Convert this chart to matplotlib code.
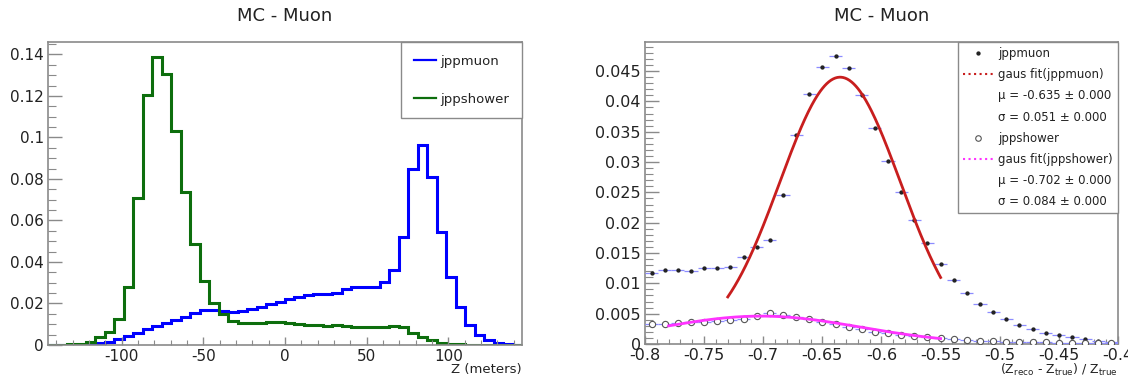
import numpy as np
import matplotlib
matplotlib.use('Agg')
import matplotlib.pyplot as plt
from matplotlib.lines import Line2D
from matplotlib.ticker import MultipleLocator, FormatStrFormatter

# left panel: Z distribution, 50 bins between -145 and 145 m
z_range = (-145, 145)
z_nbins = 50
jppmuon_z = [0.0001, 0.0001, 0.0001, 0.0002, 0.0005, 0.0008, 0.0016, 0.0027, 0.0043, 0.0060,
             0.0075, 0.0092, 0.0104, 0.0120, 0.0136, 0.0156, 0.0168, 0.0170, 0.0165, 0.0160,
             0.0162, 0.0175, 0.0185, 0.0196, 0.0209, 0.0220, 0.0233, 0.0240, 0.0246, 0.0246,
             0.0249, 0.0270, 0.0278, 0.0281, 0.0281, 0.0302, 0.0361, 0.0519, 0.0850, 0.0963,
             0.0810, 0.0546, 0.0330, 0.0185, 0.0096, 0.0050, 0.0024, 0.0010, 0.0003, 0.0001]
jppshower_z = [0.0002, 0.0002, 0.0003, 0.0006, 0.0016, 0.0037, 0.0064, 0.0127, 0.0278, 0.0706,
               0.1205, 0.1390, 0.1305, 0.1030, 0.0735, 0.0488, 0.0310, 0.0200, 0.0150, 0.0115,
               0.0108, 0.0105, 0.0108, 0.0112, 0.0110, 0.0108, 0.0103, 0.0098, 0.0096, 0.0093,
               0.0095, 0.0092, 0.0088, 0.0086, 0.0085, 0.0087, 0.0093, 0.0088, 0.0060, 0.0040,
               0.0023, 0.0012, 0.0006, 0.0003, 0.0001, 0.0, 0.0, 0.0, 0.0, 0.0]

# right panel: relative resolution, 36 bins between -0.8 and -0.4
res_range = (-0.8, -0.4)
res_nbins = 36
jppmuon_res = [0.01166, 0.01221, 0.01221, 0.01205, 0.01249, 0.01260, 0.01271, 0.01430, 0.01606, 0.01716,
               0.02459, 0.03449, 0.04126, 0.04560, 0.04742, 0.04544, 0.04098, 0.03559, 0.03020, 0.02508,
               0.02046, 0.01661, 0.01320, 0.01056, 0.00836, 0.00660, 0.00523, 0.00407, 0.00314, 0.00242,
               0.00187, 0.00143, 0.00110, 0.00077, 0.00050, 0.00033]
jppshower_res = [0.00325, 0.00330, 0.00340, 0.00358, 0.00369, 0.00380, 0.00396, 0.00407, 0.00468, 0.00506,
                 0.00479, 0.00451, 0.00407, 0.00358, 0.00330, 0.00286, 0.00248, 0.00204, 0.00176, 0.00149,
                 0.00132, 0.00110, 0.00094, 0.00077, 0.00060, 0.00050, 0.00044, 0.00039, 0.00033, 0.00028,
                 0.00028, 0.00022, 0.00022, 0.00017, 0.00017, 0.00017]

# gaus fits: amplitude, mean, sigma, fit range
muon_fit = dict(amp=0.0440, mu=-0.635, sigma=0.051, lo=-0.73, hi=-0.55)
shower_fit = dict(amp=0.0046, mu=-0.702, sigma=0.084, lo=-0.78, hi=-0.55)

plt.rcParams['font.family'] = ['DejaVu Sans']
plt.rcParams['mathtext.default'] = 'regular'
plt.rcParams['axes.unicode_minus'] = False

W, H = 1128, 378
fig = plt.figure(figsize=(W / 100, H / 100), dpi=100)
ax1 = fig.add_axes([48 / W, 1 - 345 / H, 474 / W, 303 / H])
ax2 = fig.add_axes([645 / W, 1 - 344 / H, 473 / W, 302 / H])

frame_col = '#8a8a8a'
text_col = '#222222'


def root_style(ax, xmaj, xmin, ymaj, ymin, ylen):
    for s in ax.spines.values():
        s.set_color(frame_col)
        s.set_linewidth(1.2)
    ax.xaxis.set_major_locator(MultipleLocator(xmaj))
    ax.xaxis.set_minor_locator(MultipleLocator(xmin))
    ax.yaxis.set_major_locator(MultipleLocator(ymaj))
    ax.yaxis.set_minor_locator(MultipleLocator(ymin))
    ax.xaxis.set_major_formatter(plt.FuncFormatter(lambda v, p: '%g' % round(v, 4)))
    ax.yaxis.set_major_formatter(plt.FuncFormatter(lambda v, p: '%g' % round(v, 4)))
    ax.tick_params(axis='both', which='both', direction='in', color=frame_col,
                   labelcolor=text_col, top=False, right=False)
    ax.tick_params(axis='y', which='major', length=ylen, width=1, pad=3)
    ax.tick_params(axis='y', which='minor', length=ylen * 0.55, width=0.8)
    ax.tick_params(axis='x', which='major', length=6, width=1, pad=3)
    ax.tick_params(axis='x', which='minor', length=3.5, width=0.8)


# left panel
z_edges = np.linspace(z_range[0], z_range[1], z_nbins + 1)
ax1.stairs(jppmuon_z, z_edges, color='#0000ff', lw=2.2, label='jppmuon')
ax1.stairs(jppshower_z, z_edges, color='#0d6e0d', lw=2.2, label='jppshower')
ax1.set_xlim(z_range)
ax1.set_ylim(0, 0.146)
root_style(ax1, 50, 10, 0.02, 0.005, 10)
ax1.tick_params(labelsize=11)

leg1 = ax1.legend(loc='upper right', bbox_to_anchor=(1, 1), borderaxespad=0, fontsize=9.5,
                  frameon=True, fancybox=False, framealpha=1, edgecolor=frame_col,
                  handlelength=1.7, handletextpad=0.35, labelspacing=1.9, borderpad=0.95)
leg1.get_frame().set_linewidth(1)
for t in leg1.get_texts():
    t.set_color(text_col)
for h in leg1.get_lines():
    h.set_linewidth(1.6)

ax1.text(0.5, 1 + (42 - 16) / 303, 'MC - Muon', transform=ax1.transAxes,
         ha='center', va='center', fontsize=13, color=text_col)
ax1.text(1, -(369 - 345) / 303, 'Z (meters)', transform=ax1.transAxes,
         ha='right', va='center', fontsize=9.5, color=text_col)

# right panel
res_edges = np.linspace(res_range[0], res_range[1], res_nbins + 1)
centers = 0.5 * (res_edges[:-1] + res_edges[1:])
half = 0.5 * (res_edges[1] - res_edges[0])

ax2.errorbar(centers, jppmuon_res, xerr=half, fmt='o', ms=2.1, color='#222222',
             ecolor='#8c8cff', elinewidth=0.9, capsize=0, zorder=3)
ax2.errorbar(centers, jppshower_res, xerr=half, fmt='o', ms=4.5, mfc='white', mec='#555555',
             mew=0.8, ecolor='#8c8cff', elinewidth=0.9, capsize=0, zorder=3)

for fit, col in [(muon_fit, '#c81e1e'), (shower_fit, '#ff33ff')]:
    xs = np.linspace(fit['lo'], fit['hi'], 300)
    ys = fit['amp'] * np.exp(-0.5 * ((xs - fit['mu']) / fit['sigma']) ** 2)
    ax2.plot(xs, ys, color=col, lw=2.0, zorder=4)

ax2.set_xlim(res_range)
ax2.set_ylim(0, 0.0498)
root_style(ax2, 0.05, 0.01, 0.005, 0.001, 10)
ax2.tick_params(labelsize=11.5)

handles = [
    Line2D([], [], ls='none', marker='o', ms=2.1, color='#222222'),
    Line2D([], [], ls=':', color='#c81e1e', lw=1.5),
    Line2D([], [], ls='none'),
    Line2D([], [], ls='none'),
    Line2D([], [], ls='none', marker='o', ms=4, mfc='white', mec='#555555', mew=0.8),
    Line2D([], [], ls=':', color='#ff33ff', lw=1.5),
    Line2D([], [], ls='none'),
    Line2D([], [], ls='none'),
]
labels = [
    'jppmuon',
    'gaus fit(jppmuon)',
    'μ = %.3f ± 0.000' % muon_fit['mu'],
    'σ = %.3f ± 0.000' % muon_fit['sigma'],
    'jppshower',
    'gaus fit(jppshower)',
    'μ = %.3f ± 0.000' % shower_fit['mu'],
    'σ = %.3f ± 0.000' % shower_fit['sigma'],
]
leg2 = ax2.legend(handles, labels, loc='upper right', bbox_to_anchor=(1, 1), borderaxespad=0,
                  fontsize=8.5, frameon=True, fancybox=False, framealpha=1, edgecolor=frame_col,
                  handlelength=2.6, handletextpad=0.4, labelspacing=0.69, borderpad=0.43)
leg2.get_frame().set_linewidth(1)
for t in leg2.get_texts():
    t.set_color(text_col)

ax2.text(0.5, 1 + (42 - 16) / 302, 'MC - Muon', transform=ax2.transAxes,
         ha='center', va='center', fontsize=13, color=text_col)
ax2.text(1, -(370 - 344) / 302, r'$(Z_{reco}$ - $Z_{true})$ / $Z_{true}$', transform=ax2.transAxes,
         ha='right', va='center', fontsize=9, color=text_col)

fig.savefig('out.png', dpi=100)
